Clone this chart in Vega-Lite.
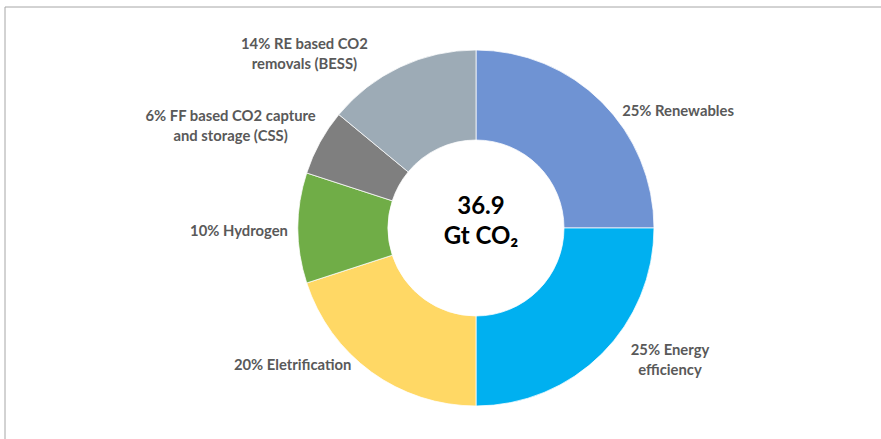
{
  "$schema": "https://vega.github.io/schema/vega-lite/v6.json",
  "width": 942,
  "height": 442,
  "autosize": {"type": "none"},
  "padding": {"left": 5, "top": 7, "right": 0, "bottom": 0},
  "background": "white",
  "config": {
    "view": {"stroke": null},
    "text": {"font": "Lato", "fontWeight": "bold", "fontSize": 14.8, "color": "#595959", "lineBreak": "\n", "lineHeight": 20, "align": "center", "baseline": "middle"}
  },
  "datasets": {
    "shares": [
      {"cat": "Renewables", "value": 25, "label": "25% Renewables"},
      {"cat": "Energy efficiency", "value": 25, "label": "25% Energy\nefficiency"},
      {"cat": "Eletrification", "value": 20, "label": "20% Eletrification"},
      {"cat": "Hydrogen", "value": 10, "label": "10% Hydrogen"},
      {"cat": "FF based CO2 capture and storage (CSS)", "value": 6, "label": "6% FF based CO2 capture\nand storage (CSS)"},
      {"cat": "RE based CO2 removals (BESS)", "value": 14, "label": "14% RE based CO2\nremovals (BESS)"}
    ],
    "total": [{"total": "36.9", "unit": "Gt CO₂"}]
  },
  "layer": [
    {
      "data": {"name": "total"},
      "mark": {"type": "rect", "fill": null, "stroke": "#A6A6A6", "strokeWidth": 1},
      "encoding": {}
    },
    {
      "data": {"name": "shares"},
      "transform": [{"window": [{"op": "row_number", "as": "rank"}]}],
      "encoding": {
        "theta": {"field": "value", "type": "quantitative", "stack": true},
        "order": {"field": "rank", "type": "quantitative"}
      },
      "layer": [
        {
          "mark": {"type": "arc", "outerRadius": 178, "innerRadius": 88, "stroke": "white", "strokeWidth": 0.75},
          "encoding": {
            "color": {
              "field": "cat",
              "type": "nominal",
              "legend": null,
              "scale": {
                "domain": ["Renewables", "Energy efficiency", "Eletrification", "Hydrogen", "FF based CO2 capture and storage (CSS)", "RE based CO2 removals (BESS)"],
                "range": ["#6F93D3", "#00B0F0", "#FFD865", "#70AD47", "#7F7F7F", "#9DABB6"]
              }
            }
          }
        },
        {
          "mark": {"type": "text", "radius": 215, "dx": 50, "dy": 36},
          "encoding": {
            "detail": {"field": "cat", "type": "nominal"},
            "text": {"condition": {"test": "datum.cat === 'Renewables'", "field": "label"}, "value": ""}
          }
        },
        {
          "mark": {"type": "text", "radius": 215, "dx": 42, "dy": -29},
          "encoding": {
            "detail": {"field": "cat", "type": "nominal"},
            "text": {"condition": {"test": "datum.cat === 'Energy efficiency'", "field": "label"}, "value": ""}
          }
        },
        {
          "mark": {"type": "text", "radius": 215, "dx": -57, "dy": -36},
          "encoding": {
            "detail": {"field": "cat", "type": "nominal"},
            "text": {"condition": {"test": "datum.cat === 'Eletrification'", "field": "label"}, "value": ""}
          }
        },
        {
          "mark": {"type": "text", "radius": 215, "dx": -22, "dy": 4},
          "encoding": {
            "detail": {"field": "cat", "type": "nominal"},
            "text": {"condition": {"test": "datum.cat === 'Hydrogen'", "field": "label"}, "value": ""}
          }
        },
        {
          "mark": {"type": "text", "radius": 215, "dx": -57, "dy": -7},
          "encoding": {
            "detail": {"field": "cat", "type": "nominal"},
            "text": {"condition": {"test": "datum.cat === 'FF based CO2 capture and storage (CSS)'", "field": "label"}, "value": ""}
          }
        },
        {
          "mark": {"type": "text", "radius": 215, "dx": -80, "dy": 12},
          "encoding": {
            "detail": {"field": "cat", "type": "nominal"},
            "text": {"condition": {"test": "datum.cat === 'RE based CO2 removals (BESS)'", "field": "label"}, "value": ""}
          }
        }
      ]
    },
    {
      "data": {"name": "total"},
      "mark": {"type": "text", "fontSize": 24, "color": "#000000", "baseline": "alphabetic", "dx": 5, "dy": -14},
      "encoding": {"text": {"field": "total", "type": "nominal"}}
    },
    {
      "data": {"name": "total"},
      "mark": {"type": "text", "fontSize": 24, "color": "#000000", "baseline": "alphabetic", "dx": 5, "dy": 16},
      "encoding": {"text": {"field": "unit", "type": "nominal"}}
    }
  ]
}
